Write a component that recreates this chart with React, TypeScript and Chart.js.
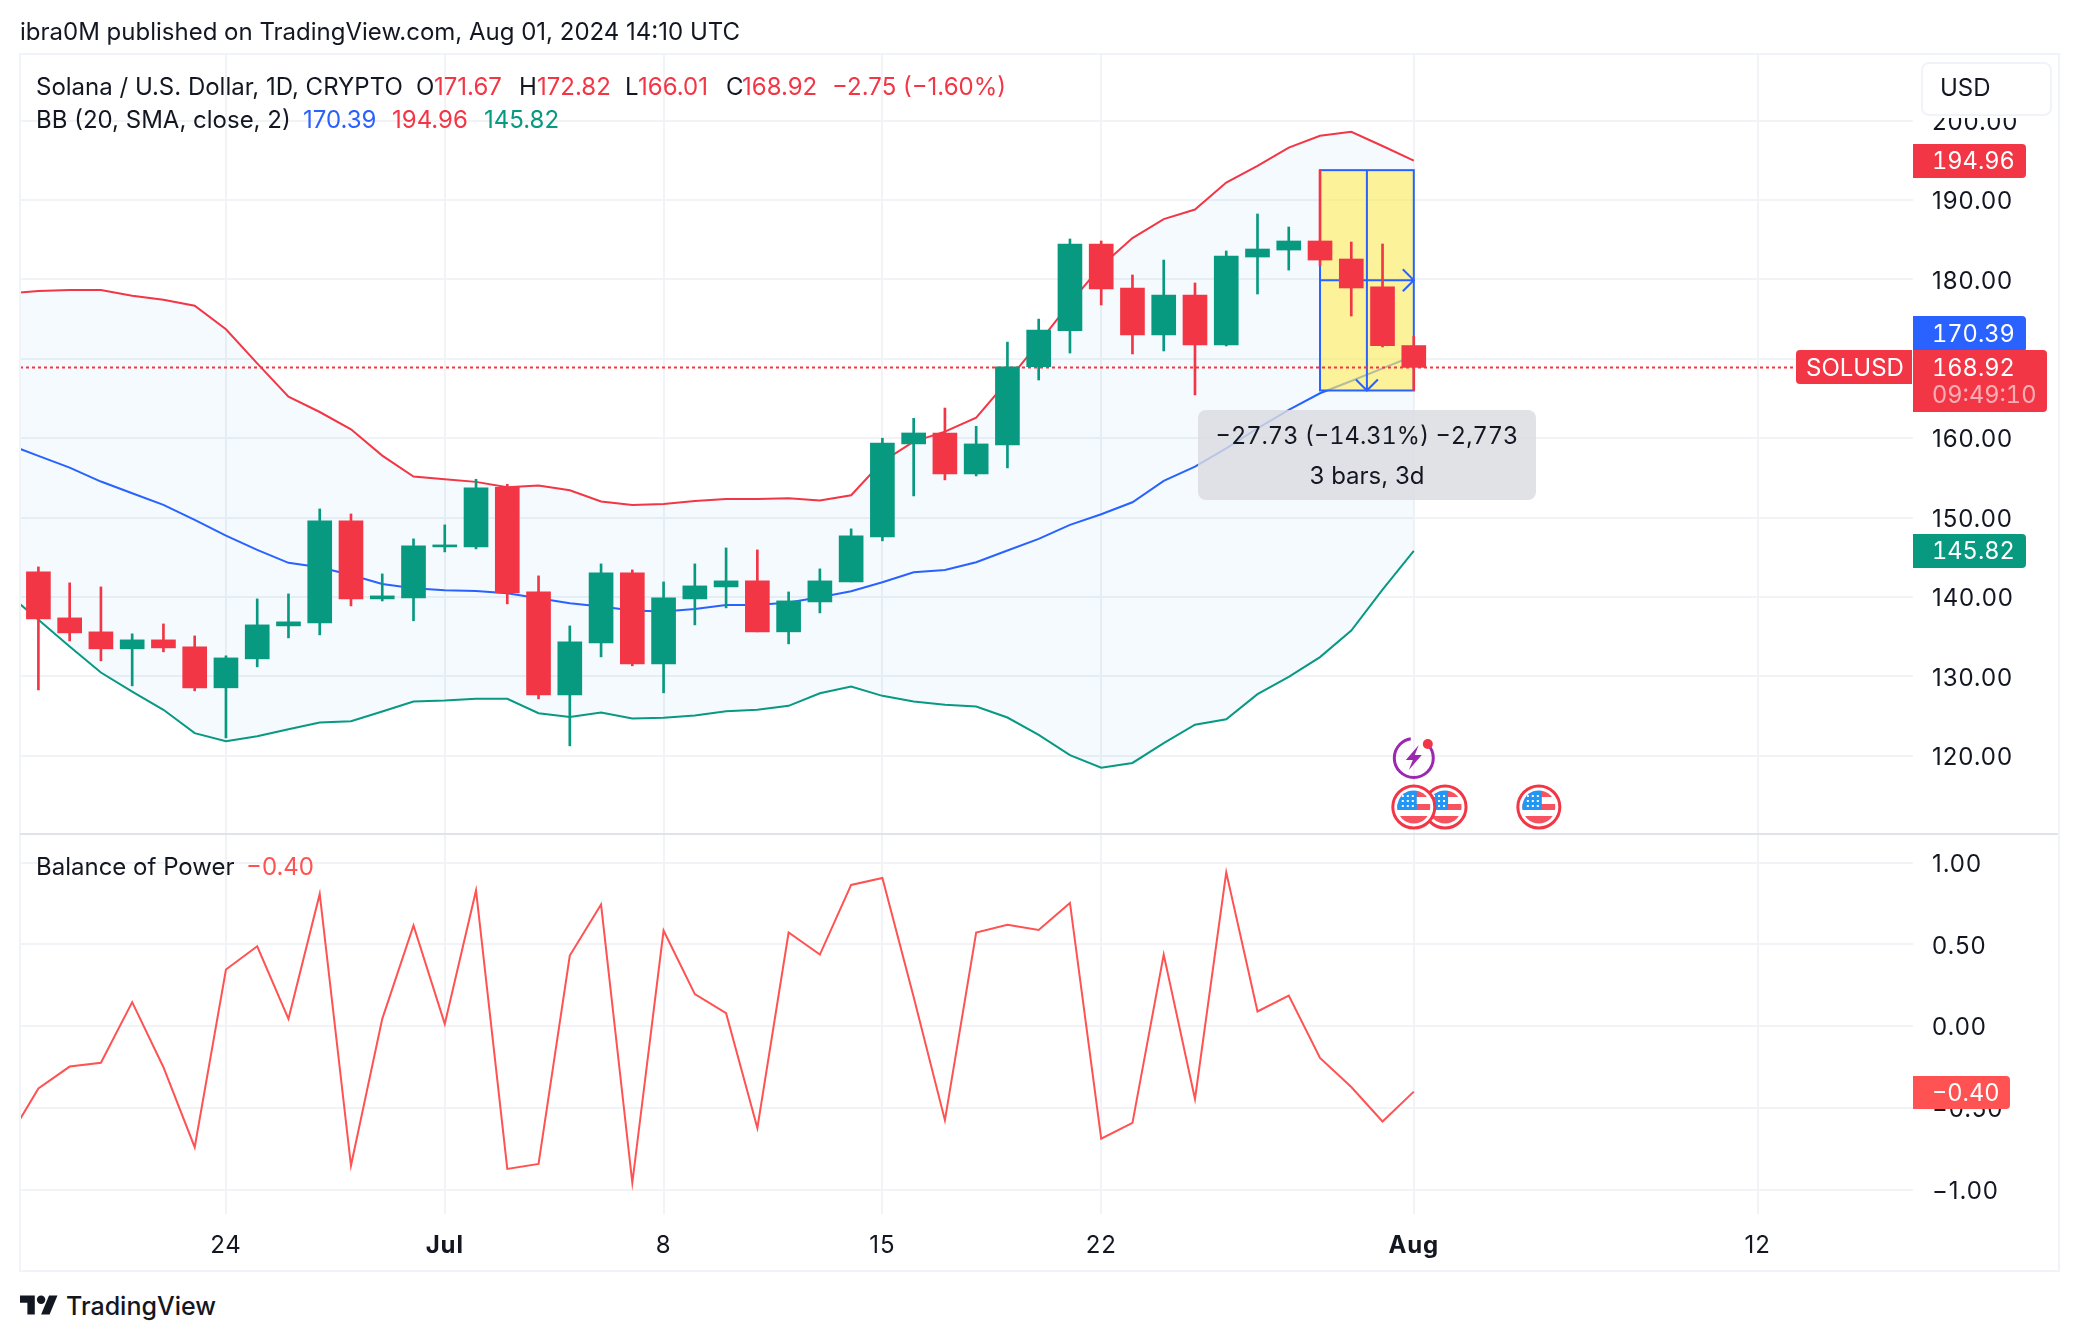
import React, { useEffect, useRef } from "react";
import { Chart, registerables } from "chart.js";

Chart.register(...registerables);

const FONT = "Inter, 'Noto Sans', sans-serif";
const INK = "#131722";
const RED = "#f23645";
const GREEN = "#089981";
const BLUE = "#2962ff";
const BOP_RED = "#ff5252";
const GRID = "#f1f3f6";

// Day index 0 = 18 Jun 2024
const opens = [143.16,137.37,135.61,133.47,134.6,133.72,128.56,132.21,136.36,136.74,149.58,139.76,139.89,146.31,146.31,153.82,140.64,127.67,134.22,143.04,131.58,139.76,141.27,142.03,135.61,139.38,141.9,147.57,159.28,160.66,155.5,159.15,169.0,173.55,184.46,178.92,173.0,178.04,171.74,182.82,183.7,184.84,182.57,179.05,171.67];
const closes = [137.24,135.48,133.47,134.6,133.59,128.56,132.33,136.49,136.87,149.58,139.76,140.14,146.44,146.56,153.74,140.52,127.67,134.35,143.04,131.58,139.89,141.4,142.03,135.61,139.51,142.03,147.69,159.4,160.66,155.5,159.28,169.0,173.63,184.46,178.79,173.0,178.04,171.74,182.95,183.83,184.84,182.44,178.92,171.67,168.92];
const highs = [143.79,141.78,141.27,135.36,136.61,135.1,132.59,139.76,140.39,151.09,150.46,142.91,147.32,149.08,154.83,154.2,142.66,136.36,144.17,143.41,141.9,144.17,146.18,145.93,140.64,143.54,148.58,160.0,162.5,163.8,161.5,172.1,175.0,185.09,184.84,180.56,182.44,179.55,183.58,188.24,186.6,193.78,184.71,184.46,172.82];
const lows = [128.3,134.47,131.96,128.81,133.09,128.18,122.26,131.2,134.85,135.23,138.88,139.5,137.0,145.68,146.06,139.13,127.17,121.25,132.46,131.33,127.93,136.49,138.63,135.61,134.1,138.0,141.9,147.07,152.73,154.75,155.25,156.26,167.33,170.73,176.78,170.61,170.99,165.45,171.62,178.16,181.18,181.7,175.39,171.49,166.01];

// Indicator series begin one day earlier (17 Jun, index -1), cut by the pane edge
const bbUpper = [178.2,178.54,178.67,178.67,177.95,177.45,176.69,173.72,169.43,165.24,163.3,161.12,157.81,155.17,154.83,154.5,153.82,154.03,153.44,152.02,151.6,151.72,152.1,152.35,152.35,152.44,152.14,152.81,157.05,159.57,160.83,162.6,167.2,172,177,181.7,185.2,187.6,188.8,192.2,194.3,196.6,198.1,198.6,196.8,194.96];
const bbBasis = [159.28,157.77,156.3,154.54,153.07,151.6,149.71,147.74,145.93,144.3,143.75,142.78,141.65,141.1,140.85,140.77,140.48,139.85,139.22,138.8,138.3,138.17,138.5,139.0,139.0,139.3,139.97,140.73,141.86,143.12,143.41,144.38,145.85,147.32,149.08,150.42,151.93,154.62,156.42,158.73,161.25,163.56,165.66,167.2,168.8,170.39];
const bbLower = [140.5,137.12,133.76,130.49,128.09,125.79,122.85,121.84,122.47,123.35,124.19,124.36,125.58,126.84,126.96,127.17,127.17,125.37,124.9,125.45,124.7,124.78,125.07,125.62,125.79,126.29,127.88,128.72,127.55,126.84,126.42,126.21,124.82,122.64,120.09,118.5,119.1,121.59,123.92,124.59,127.76,129.93,132.43,135.77,140.94,145.82];
const bop = [-0.7,-0.381,-0.247,-0.224,0.147,-0.251,-0.74,0.347,0.489,0.045,0.809,-0.852,0.045,0.616,0.014,0.83,-0.873,-0.842,0.432,0.744,-0.958,0.585,0.196,0.08,-0.622,0.573,0.438,0.864,0.907,0.179,-0.575,0.573,0.62,0.589,0.754,-0.688,-0.591,0.438,-0.445,0.941,0.09,0.187,-0.194,-0.372,-0.583,-0.4];

const xTickDays = [6, 13, 20, 27, 34, 44, 55];
const xTickLabels = ["24", "Jul", "8", "15", "22", "Aug", "12"];
const boldXTicks = ["Jul", "Aug"];
const priceTicks = [120, 130, 140, 150, 160, 170, 180, 190, 200];
const bopTicks = [-1, -0.5, 0, 0.5, 1];

const lastPrice = 168.92;
const priceLineEndDay = 56.2;
const measureFromDay = 41;
const measureToDay = 44;
const measureHigh = 193.76;
const measureLow = 166.01;
const flagDays = [45, 44, 48];
const lightningDay = 44;

const X_MIN = -0.5886;
const X_MAX = 59.97;

const withIndex = (values: number[]) => values.map((y, i) => ({ x: i - 1, y }));
const candleColors = closes.map((c, i) => (c >= opens[i] ? GREEN : RED));

const minusFmt = (v: number) => (v < 0 ? "\u2212" : "") + Math.abs(v).toFixed(2);

const clearPadding = (s: any) => {
  s.paddingTop = 0;
  s.paddingBottom = 0;
  s.paddingLeft = 0;
  s.paddingRight = 0;
};

const xScale = (labels: boolean) => ({
  type: "linear",
  offset: false,
  min: X_MIN,
  max: X_MAX,
  afterBuildTicks: (s: any) => {
    s.ticks = xTickDays.map((value) => ({ value }));
  },
  afterFit: (s: any) => {
    s.height = labels ? 56 : 0;
    clearPadding(s);
  },
  grid: { color: GRID, lineWidth: 2, drawTicks: false, offset: false },
  border: { display: false },
  ticks: {
    display: labels,
    autoSkip: false,
    maxRotation: 0,
    padding: 17,
    color: INK,
    callback: (v: number) => xTickLabels[xTickDays.indexOf(v)] ?? "",
    font: (ctx: any) => {
      const lab = xTickLabels[xTickDays.indexOf(ctx.tick?.value)];
      return { family: FONT, size: 24, weight: boldXTicks.includes(lab) ? "700" : "400" };
    },
  },
});

const yScale = (min: number, max: number, ticks: number[]) => ({
  type: "linear",
  position: "right",
  min,
  max,
  afterBuildTicks: (s: any) => {
    s.ticks = ticks.map((value) => ({ value }));
  },
  afterFit: (s: any) => {
    s.width = 145;
    clearPadding(s);
  },
  grid: { color: GRID, lineWidth: 2, drawTicks: false },
  border: { display: false },
  ticks: {
    autoSkip: false,
    crossAlign: "near",
    padding: 19,
    labelOffset: 2,
    color: INK,
    font: { family: FONT, size: 24 },
    callback: (v: number) => minusFmt(v),
  },
});

const spacingPlugin = {
  id: "spacing",
  beforeDraw(chart: any) {
    chart.ctx.letterSpacing = "0.9px";
  },
};

const measurePlugin = {
  id: "measure",
  beforeDatasetDraw(chart: any, args: any) {
    if (args.index !== 3) return;
    const { x, y } = chart.scales;
    const { ctx } = chart;
    const l = x.getPixelForValue(measureFromDay);
    const r = x.getPixelForValue(measureToDay);
    const t = y.getPixelForValue(measureHigh);
    const b = y.getPixelForValue(measureLow);
    const mx = (l + r) / 2;
    const my = (t + b) / 2;
    ctx.save();
    ctx.fillStyle = "rgba(255,238,100,0.65)";
    ctx.fillRect(l, t, r - l, b - t);
    ctx.strokeStyle = BLUE;
    ctx.lineWidth = 2;
    ctx.strokeRect(l, t, r - l, b - t);
    ctx.beginPath();
    ctx.moveTo(mx, t);
    ctx.lineTo(mx, b);
    ctx.moveTo(l, my);
    ctx.lineTo(r, my);
    ctx.moveTo(r - 11, my - 11);
    ctx.lineTo(r, my);
    ctx.lineTo(r - 11, my + 11);
    ctx.moveTo(mx - 11, b - 11);
    ctx.lineTo(mx, b);
    ctx.lineTo(mx + 11, b - 11);
    ctx.stroke();
    ctx.restore();
  },
};

const eventsPlugin = {
  id: "events",
  afterDatasetsDraw(chart: any) {
    const { x } = chart.scales;
    const { ctx, chartArea } = chart;
    const flagY = chartArea.bottom - 27;
    const boltY = chartArea.bottom - 76;
    flagDays.forEach((d) => {
      const cx = x.getPixelForValue(d);
      ctx.save();
      ctx.beginPath();
      ctx.arc(cx, flagY, 21, 0, Math.PI * 2);
      ctx.fillStyle = "#fff";
      ctx.fill();
      ctx.lineWidth = 3;
      ctx.strokeStyle = RED;
      ctx.stroke();
      ctx.beginPath();
      ctx.arc(cx, flagY, 16.5, 0, Math.PI * 2);
      ctx.clip();
      ctx.fillStyle = "#f7525f";
      ctx.fillRect(cx - 17, flagY - 16, 34, 6);
      ctx.fillRect(cx - 17, flagY - 3, 34, 6);
      ctx.fillRect(cx - 17, flagY + 9, 34, 8);
      ctx.fillStyle = "#2196f3";
      ctx.fillRect(cx - 17, flagY - 17, 20, 20);
      ctx.fillStyle = "#fff";
      for (let r = 0; r < 3; r++) {
        for (let c = 0; c < 3; c++) {
          ctx.fillRect(cx - 12 + c * 5, flagY - 12 + r * 5, 2, 2);
        }
      }
      ctx.restore();
    });
    const bx = x.getPixelForValue(lightningDay);
    ctx.save();
    ctx.strokeStyle = "#9c27b0";
    ctx.lineWidth = 3;
    ctx.beginPath();
    ctx.arc(bx, boltY, 19.5, -Math.PI * 0.25, Math.PI * 1.45);
    ctx.stroke();
    ctx.fillStyle = "#9c27b0";
    ctx.beginPath();
    ctx.moveTo(bx + 5, boltY - 13);
    ctx.lineTo(bx - 8, boltY + 2);
    ctx.lineTo(bx - 1, boltY + 2);
    ctx.lineTo(bx - 5, boltY + 12);
    ctx.lineTo(bx + 8, boltY - 3);
    ctx.lineTo(bx + 1, boltY - 3);
    ctx.closePath();
    ctx.fill();
    ctx.fillStyle = RED;
    ctx.beginPath();
    ctx.arc(bx + 14, boltY - 14, 5, 0, Math.PI * 2);
    ctx.fill();
    ctx.restore();
  },
};

type TextProps = { x: number; y: number; color?: string; size?: number; weight?: number; center?: boolean; opacity?: number; tnum?: boolean; children: React.ReactNode };
const T = ({ x, y, color = INK, size = 24, weight = 400, center = false, opacity = 1, tnum = false, children }: TextProps) => (
  <div
    style={{
      position: "absolute",
      left: x,
      top: y,
      transform: center ? "translate(-50%,-50%)" : "translateY(-50%)",
      color,
      opacity,
      fontSize: size,
      fontWeight: weight,
      fontFamily: FONT,
      fontVariantNumeric: tnum ? "tabular-nums" : "normal",
      whiteSpace: "nowrap",
      lineHeight: 1.2,
    }}
  >
    {children}
  </div>
);

const Box = ({ l, t, w, h, bg, radius }: { l: number; t: number; w: number; h: number; bg: string; radius?: string }) => (
  <div style={{ position: "absolute", left: l, top: t, width: w, height: h, background: bg, borderRadius: radius ?? "0 4px 4px 0" }} />
);

export default function App() {
  const topRef = useRef<HTMLCanvasElement>(null);
  const botRef = useRef<HTMLCanvasElement>(null);

  useEffect(() => {
    const top = new Chart(topRef.current as any, {
      type: "bar",
      data: {
        datasets: [
          {
            type: "line",
            data: withIndex(bbUpper),
            borderColor: RED,
            borderWidth: 2,
            pointRadius: 0,
            order: 6,
            fill: { target: 1 },
            backgroundColor: "rgba(33,150,243,0.05)",
          },
          { type: "line", data: withIndex(bbLower), borderColor: GREEN, borderWidth: 2, pointRadius: 0, order: 6 },
          { type: "line", data: withIndex(bbBasis), borderColor: BLUE, borderWidth: 2, pointRadius: 0, order: 5 },
          {
            type: "line",
            data: [
              { x: X_MIN, y: lastPrice },
              { x: priceLineEndDay, y: lastPrice },
            ],
            borderColor: RED,
            borderWidth: 2,
            borderDash: [3, 3],
            pointRadius: 0,
            order: 3,
          },
          {
            type: "bar",
            data: highs.map((h, i) => ({ x: i, y: [lows[i], h] })),
            backgroundColor: candleColors,
            barThickness: 2,
            grouped: false,
            order: 2,
          },
          {
            type: "bar",
            data: opens.map((o, i) => ({ x: i, y: [o, closes[i]] })),
            backgroundColor: candleColors,
            barThickness: 24,
            grouped: false,
            order: 1,
          },
        ],
      },
      options: {
        animation: false,
        responsive: false,
        devicePixelRatio: 1,
        layout: { padding: { left: 20, right: 20, top: 54, bottom: 0 } },
        plugins: { legend: { display: false }, tooltip: { enabled: false } },
        scales: { x: xScale(false), y: yScale(110.15, 208.39, priceTicks) },
      },
      plugins: [spacingPlugin, measurePlugin, eventsPlugin],
    } as any);

    const bot = new Chart(botRef.current as any, {
      type: "line",
      data: {
        datasets: [{ data: withIndex(bop), borderColor: BOP_RED, borderWidth: 2, pointRadius: 0, fill: false }],
      },
      options: {
        animation: false,
        responsive: false,
        devicePixelRatio: 1,
        layout: { padding: { left: 20, right: 20, top: 0, bottom: 0 } },
        plugins: { legend: { display: false }, tooltip: { enabled: false } },
        scales: { x: xScale(true), y: yScale(-1.1486, 1.1755, bopTicks) },
      },
      plugins: [spacingPlugin],
    } as any);

    return () => {
      top.destroy();
      bot.destroy();
    };
  }, []);

  return (
    <div style={{ position: "fixed", left: 0, top: 0, width: 2078, height: 1340, overflow: "hidden", background: "#fff" }}>
      <canvas ref={topRef} width={2078} height={834} style={{ position: "absolute", left: 0, top: 0, width: 2078, height: 834 }} />
      <canvas ref={botRef} width={2078} height={436} style={{ position: "absolute", left: 0, top: 834, width: 2078, height: 436 }} />

      <div style={{ position: "absolute", left: 19, top: 53, width: 2037, height: 1215, border: "2px solid #f0f3fa" }} />
      <div style={{ position: "absolute", left: 20, top: 833, width: 2038, height: 2, background: "#e0e3eb" }} />

      <T x={20} y={32}>ibra0M published on TradingView.com, Aug 01, 2024 14:10 UTC</T>

      <T x={36} y={87}>Solana / U.S. Dollar, 1D, CRYPTO</T>
      <T x={416} y={87}>O</T><T x={434} y={87} color={RED}>171.67</T>
      <T x={519} y={87}>H</T><T x={537} y={87} color={RED}>172.82</T>
      <T x={625} y={87}>L</T><T x={638} y={87} color={RED}>166.01</T>
      <T x={726} y={87}>C</T><T x={742} y={87} color={RED}>168.92</T>
      <T x={832} y={87} color={RED}>{"\u22122.75 (\u22121.60%)"}</T>

      <T x={36} y={120}>BB (20, SMA, close, 2)</T>
      <T x={303} y={120} color={BLUE}>170.39</T>
      <T x={392} y={120} color={RED}>194.96</T>
      <T x={484} y={120} color={GREEN}>145.82</T>

      <T x={36} y={867}>Balance of Power</T>
      <T x={246} y={867} color={BOP_RED}>{"\u22120.40"}</T>

      <div style={{ position: "absolute", left: 1198, top: 410, width: 338, height: 90, borderRadius: 8, background: "rgba(218,220,224,0.82)" }} />
      <T x={1367} y={436} center tnum size={23.6}>{"\u221227.73 (\u221214.31%) \u22122,773"}</T>
      <T x={1367} y={476} center>3 bars, 3d</T>

      <div style={{ position: "absolute", left: 1915, top: 56, width: 141, height: 62, background: "#fff" }} />
      <div style={{ position: "absolute", left: 1921, top: 62, width: 127, height: 50, background: "#fff", border: "2px solid #f0f3fa", borderRadius: 8 }} />
      <T x={1940} y={88}>USD</T>

      <Box l={1913} t={144} w={113} h={34} bg={RED} />
      <T x={1932} y={161} color="#fff" tnum size={23.6}>194.96</T>
      <Box l={1913} t={316} w={113} h={36} bg={BLUE} />
      <T x={1932} y={334} color="#fff" tnum size={23.6}>170.39</T>
      <Box l={1796} t={350} w={116} h={34} bg={RED} radius="4px 0 0 4px" />
      <T x={1806} y={368} color="#fff">SOLUSD</T>
      <Box l={1913} t={350} w={134} h={62} bg={RED} />
      <T x={1932} y={368} color="#fff" tnum size={23.6}>168.92</T>
      <T x={1932} y={395} color="#fff" opacity={0.6} tnum size={23.6}>09:49:10</T>
      <Box l={1913} t={534} w={113} h={34} bg={GREEN} />
      <T x={1932} y={551} color="#fff" tnum size={23.6}>145.82</T>
      <Box l={1913} t={1076} w={97} h={33} bg={BOP_RED} />
      <T x={1932} y={1093} color="#fff" tnum size={23.6}>{"\u22120.40"}</T>

      <svg width={38} height={30} viewBox="0 0 36 28" style={{ position: "absolute", left: 20, top: 1291 }}>
        <path d="M14 22H7V11H0V4h14v18zM28 22h-8l7.5-18h8L28 22z" fill={INK} />
        <circle cx={20} cy={8} r={4} fill={INK} />
      </svg>
      <T x={66} y={1306} size={25} weight={500}>TradingView</T>
    </div>
  );
}
